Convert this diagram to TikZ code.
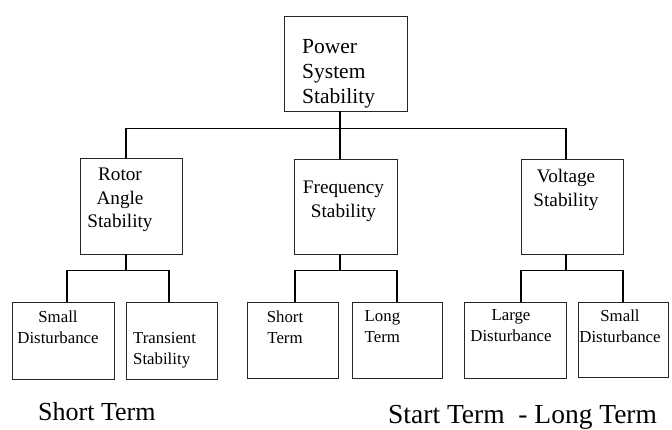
\documentclass[tikz,border=0pt]{standalone}
\usepackage{fontspec}
\setmainfont{Liberation Serif}
\usetikzlibrary{positioning, calc}

\begin{document}
\begin{tikzpicture}[x=1pt, y=-1pt,
    box/.style={draw=black!85, line width=0.8pt, inner sep=0pt},
    conn/.style={line width=1.6pt, black},
    bigtxt/.style={inner sep=0pt, font=\fontsize{21.5}{25}\selectfont},
    midtxt/.style={inner sep=0pt, align=center, font=\fontsize{19.2}{23.5}\selectfont},
    smalltxt/.style={inner sep=0pt, align=center, font=\fontsize{16.8}{21}\selectfont},
    captxt/.style={inner sep=0pt, font=\fontsize{26}{30}\selectfont}]

    \useasboundingbox (0,0) rectangle (672,430);

    % 1. Top box
    \node[box, minimum width=123pt, minimum height=95pt] (pss) at (345.5,63.5) {};
    \node[bigtxt, align=left, anchor=north west] (pss-t) at (302,38.9) {Power\\System\\Stability};

    % 2. Second level boxes
    \node[box, minimum width=102pt, minimum height=96pt] (rotor) at (131,206) {};
    \node[box, minimum width=103pt, minimum height=95pt] (freq) at (345.5,206.5) {};
    \node[box, minimum width=102pt, minimum height=95pt] (volt) at (572,206.5) {};
    \node[midtxt, anchor=north] (rotor-t) at (120,168.1) {Rotor\\Angle\\Stability};
    \node[midtxt, anchor=north] (freq-t) at (343.5,181.1) {Frequency\\Stability};
    \node[midtxt, anchor=north] (volt-t) at (566,169.1) {Voltage\\Stability};

    % 3. Bottom boxes
    \node[box, minimum width=102pt, minimum height=77pt] (sd1) at (63,340.5) {};
    \node[box, minimum width=91pt, minimum height=77pt] (ts) at (171.5,340.5) {};
    \node[box, minimum width=91pt, minimum height=76pt] (st) at (292.5,340) {};
    \node[box, minimum width=90pt, minimum height=76pt] (lt) at (397,340) {};
    \node[box, minimum width=102pt, minimum height=76pt] (ld) at (515,340) {};
    \node[box, minimum width=90pt, minimum height=75pt] (sd2) at (623,339.5) {};
    \node[smalltxt, anchor=north] (sd1-t) at (58,310.7) {Small\\Disturbance};
    \node[smalltxt, align=left, anchor=north west] (ts-t) at (133,331.7) {Transient\\Stability};
    \node[smalltxt, anchor=north] (st-t) at (285,310.7) {Short\\Term};
    \node[smalltxt, align=left, anchor=north west] (lt-t) at (364.5,310.7) {Long\\Term};
    \node[smalltxt, anchor=north] (ld-t) at (511,309.7) {Large\\Disturbance};
    \node[smalltxt, anchor=north] (sd2-t) at (620,309.7) {Small\\Disturbance};

    % 4. Connectors
    \draw[conn] ([xshift=-5.5pt]pss.south) -- ++(0,17) coordinate (mainbus);
    \draw[conn] ([xshift=-5pt]rotor.north) |- (mainbus) -| ([xshift=-6pt]volt.north);
    \draw[conn] (mainbus) -- ([xshift=-5.5pt]freq.north);

    \draw[conn] ([xshift=-5pt]rotor.south) -- ++(0,16) coordinate (rotorbus);
    \draw[conn] ([xshift=4pt]sd1.north) |- (rotorbus) -| ([xshift=-2.5pt]ts.north);
    \draw[conn] ([xshift=-5.5pt]freq.south) -- ++(0,16) coordinate (freqbus);
    \draw[conn] ([xshift=2.5pt]st.north) |- (freqbus) -| (lt.north);
    \draw[conn] ([xshift=-6pt]volt.south) -- ++(0,16) coordinate (voltbus);
    \draw[conn] ([xshift=6pt]ld.north) |- (voltbus) -| (sd2.north);

    % 5. Captions
    \node[captxt, anchor=base west] (short-cap) at (38,420) {Short Term};
    \node[captxt, font=\fontsize{27.5}{30}\selectfont, anchor=base west] (long-cap) at (388,423.5) {Start Term~~- Long Term};

\end{tikzpicture}
\end{document}
